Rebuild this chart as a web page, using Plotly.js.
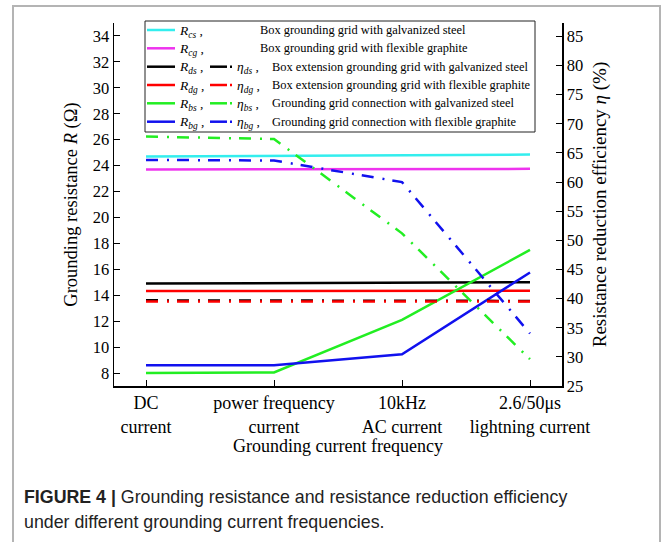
<!DOCTYPE html>
<html><head><meta charset="utf-8">
<script src="https://cdn.plot.ly/plotly-3.0.1.min.js"></script>
<style>body{margin:0;background:#fff}#chart{width:665px;height:542px}</style>
</head><body><div id="chart"></div>
<script>
// ---- data ----
const categories = ['DC<br>current', 'power frequency<br>current', '10kHz<br>AC current', '2.6/50μs<br>lightning current'];
const R_cs = [24.7, 24.75, 24.8, 24.85];
const R_cg = [23.7, 23.7, 23.72, 23.75];
const R_ds = [14.9, 14.92, 14.95, 15.0];
const R_dg = [14.33, 14.33, 14.35, 14.35];
const R_bs = [8.0, 8.05, 12.1, 17.5];
const R_bg = [8.6, 8.6, 9.45, 15.75];
const eta_ds = [39.7, 39.7, 39.6, 39.6];
const eta_dg = [39.5, 39.5, 39.5, 39.5];
const eta_bs = [67.8, 67.4, 51.2, 29.6];
const eta_bg = [63.8, 63.7, 60.0, 34.0];
const legendR = ['cs', 'cg', 'ds', 'dg', 'bs', 'bg'];
const legendEta = [null, null, 'ds', 'dg', 'bs', 'bg'];
const legendDesc = ['Box grounding grid with galvanized steel', 'Box grounding grid with flexible graphite',
  'Box extension grounding grid with galvanized steel', 'Box extension grounding grid with flexible graphite',
  'Grounding grid connection with galvanized steel', 'Grounding grid connection with flexible graphite'];

// ---- styles ----
const colors = ['#33eeee', '#ee33ee', '#000000', '#ff0000', '#22ee22', '#1111ee'];
const W = 665, H = 542, L = 114, R = 562, T = 23, B = 386;
const px = v => (v - L) / (R - L);
const py = v => (B - v) / (B - T);
const serif = 'Liberation Serif, Times New Roman, serif';
const DASHDOT = '12px,9px,2px,8px';

const rSeries = [R_cs, R_cg, R_ds, R_dg, R_bs, R_bg];
const traces = [];
rSeries.forEach((s, i) => traces.push({
  x: categories, y: s, type: 'scatter', mode: 'lines', yaxis: 'y',
  line: {color: colors[i], width: 2.5}, showlegend: false, hoverinfo: 'skip'
}));
[[eta_ds, 2], [eta_dg, 3], [eta_bs, 4], [eta_bg, 5]].forEach(([s, ci]) => traces.push({
  x: categories, y: s, type: 'scatter', mode: 'lines', yaxis: 'y2',
  line: {color: colors[ci], width: 2.5, dash: DASHDOT}, showlegend: false, hoverinfo: 'skip'
}));

const shapes = [];
const annotations = [];
// frame
shapes.push({type: 'path', xref: 'paper', yref: 'paper',
  path: `M${px(13)},${py(545)} L${px(13)},${py(6)} L${px(660)},${py(6)} L${px(660)},${py(545)}`,
  line: {color: '#b4b4b4', width: 2}});
// legend box
shapes.push({type: 'rect', xref: 'paper', yref: 'paper', x0: px(145), x1: px(535), y0: py(21), y1: py(132),
  line: {color: '#222', width: 1}, fillcolor: 'rgba(255,255,255,1)', layer: 'above'});
const rowY = [30, 48.3, 66.7, 85, 103.3, 121.7];
rowY.forEach((yy, i) => {
  shapes.push({type: 'line', xref: 'paper', yref: 'paper', x0: px(147), x1: px(175), y0: py(yy), y1: py(yy),
    line: {color: colors[i], width: 2.5}, layer: 'above'});
  annotations.push({xref: 'paper', yref: 'paper', x: px(177), y: py(yy + 1), xanchor: 'left', yanchor: 'middle',
    text: '<i>R</i><sub><i>' + legendR[i] + '</i></sub> ,', showarrow: false,
    font: {family: serif, size: 13.5, color: '#000'}});
  if (legendEta[i]) {
    shapes.push({type: 'line', xref: 'paper', yref: 'paper', x0: px(210), x1: px(227), y0: py(yy), y1: py(yy),
      line: {color: colors[i], width: 2.5}, layer: 'above'});
    shapes.push({type: 'line', xref: 'paper', yref: 'paper', x0: px(230), x1: px(232), y0: py(yy), y1: py(yy),
      line: {color: colors[i], width: 2.5}, layer: 'above'});
    annotations.push({xref: 'paper', yref: 'paper', x: px(235), y: py(yy + 1), xanchor: 'left', yanchor: 'middle',
      text: '<i>η</i><sub><i>' + legendEta[i] + '</i></sub> ,', showarrow: false,
      font: {family: serif, size: 13.5, color: '#000'}});
  }
  annotations.push({xref: 'paper', yref: 'paper', x: px(i < 2 ? 258 : 270), y: py(yy), xanchor: 'left', yanchor: 'middle',
    text: legendDesc[i], showarrow: false, font: {family: serif, size: 12.4, color: '#000'}});
});
// caption
annotations.push({xref: 'paper', yref: 'paper', x: px(22), y: py(497), xanchor: 'left', yanchor: 'middle',
  text: '<b>FIGURE 4 |</b> Grounding resistance and resistance reduction efficiency', showarrow: false,
  font: {family: 'Liberation Sans, Arial, sans-serif', size: 17.8, color: '#222'}});
annotations.push({xref: 'paper', yref: 'paper', x: px(22), y: py(522), xanchor: 'left', yanchor: 'middle',
  text: 'under different grounding current frequencies.', showarrow: false,
  font: {family: 'Liberation Sans, Arial, sans-serif', size: 17.8, color: '#222'}});

const layout = {
  width: W, height: H, paper_bgcolor: '#fff', plot_bgcolor: '#fff',
  margin: {l: L, r: W - R, t: T, b: H - B, pad: 0},
  font: {family: serif, color: '#000'},
  showlegend: false,
  xaxis: {type: 'category', range: [-0.25, 3.25], showline: true, linecolor: '#000', linewidth: 1.5, mirror: false,
    ticks: 'inside', ticklen: 6, tickcolor: '#000', showgrid: false, zeroline: false,
    tickfont: {family: serif, size: 18}, automargin: false,
    title: {text: 'Grounding current frequency', font: {family: serif, size: 18}, standoff: 4}},
  yaxis: {range: [7, 35], dtick: 2, tick0: 8, showline: true, linecolor: '#000', linewidth: 1.5,
    ticks: 'inside', ticklen: 6, tickcolor: '#000', showgrid: false, zeroline: false,
    tickfont: {family: serif, size: 16.5}, automargin: false,
    title: {text: 'Grounding resistance <i>R</i> (Ω)', font: {family: serif, size: 18.5}, standoff: 10}},
  yaxis2: {range: [25, 87.3], dtick: 5, tick0: 25, overlaying: 'y', side: 'right', showline: true, linecolor: '#000', linewidth: 1.5,
    ticks: 'inside', ticklen: 6, tickcolor: '#000', showgrid: false, zeroline: false,
    tickfont: {family: serif, size: 16.5}, automargin: false,
    title: {text: 'Resistance reduction efficiency <i>η</i> (%)', font: {family: serif, size: 19}, standoff: 10}},
  shapes: shapes, annotations: annotations
};
Plotly.newPlot('chart', traces, layout, {staticPlot: true, displayModeBar: false});
</script></body></html>
